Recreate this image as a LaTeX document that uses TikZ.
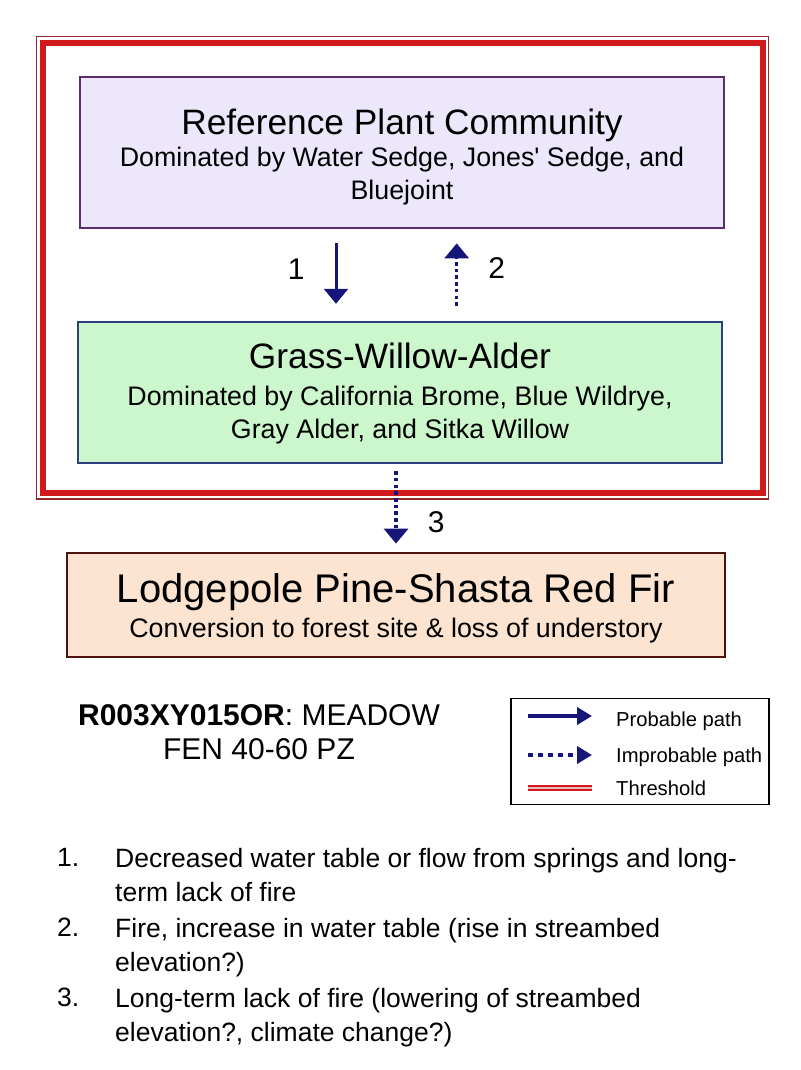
\documentclass[tikz,border=0pt]{standalone}
\usepackage{fontspec}
\setmainfont{Liberation Sans}
\usetikzlibrary{arrows.meta, positioning}
\definecolor{refcomm}{RGB}{237, 231, 251}
\definecolor{refborder}{RGB}{91, 44, 111}
\definecolor{grasscomm}{RGB}{204, 246, 204}
\definecolor{grassborder}{RGB}{47, 63, 127}
\definecolor{forestcomm}{RGB}{252, 228, 209}
\definecolor{forestborder}{RGB}{79, 20, 16}
\definecolor{threshred}{RGB}{208, 26, 26}
\definecolor{threshdark}{RGB}{150, 40, 40}
\definecolor{pathnavy}{RGB}{22, 22, 122}

\begin{document}
\begin{tikzpicture}[x=1pt, y=-1pt,
    box/.style={rectangle, draw, line width=2.8pt, inner sep=0pt},
    title/.style={anchor=base, inner sep=0pt, font=\fontsize{35.3}{40}\selectfont},
    sub/.style={anchor=north, inner sep=0pt, align=center, font=\fontsize{26.8}{32.5}\selectfont},
    num/.style={inner sep=0pt, font=\fontsize{30}{34}\selectfont},
    probable/.style={draw=pathnavy, line width=3pt, -{Triangle[length=15pt, width=24pt]}},
    improbable/.style={probable, line width=3.5pt, dash pattern=on 3.5pt off 3.2pt},
    legtext/.style={anchor=base west, inner sep=0pt, font=\fontsize{20.2}{24}\selectfont},
    item/.style={anchor=north west, inner sep=0pt, align=left, font=\fontsize{26.5}{34}\selectfont}]

    \useasboundingbox (0,0) rectangle (800,1070);

    % threshold frame
    \draw[line width=1.5pt, draw=threshdark] (36.5,36.5) rectangle (768.7,499);
    \draw[line width=6pt, draw=threshred] (43,43) rectangle (763.3,492.5);

    % states
    \node[box, draw=refborder, fill=refcomm, minimum width=644pt, minimum height=151pt] (ref) at (402,152.5) {};
    \node[title] (reftitle) at ([yshift=-59pt]ref.north) {Reference Plant Community};
    \node[sub] (refsub) at ([yshift=-71.3pt]ref.north) {Dominated by Water Sedge, Jones\textquotesingle{} Sedge, and\\Bluejoint};

    \node[box, draw=grassborder, line width=2.5pt, fill=grasscomm, minimum width=644pt, minimum height=141pt] (grass) at (400,392.5) {};
    \node[title] (grasstitle) at ([yshift=-47.5pt]grass.north) {Grass-Willow-Alder};
    \node[sub] (grasssub) at ([yshift=-65.3pt]grass.north) {Dominated by California Brome, Blue Wildrye,\\Gray Alder, and Sitka Willow};

    \node[box, draw=forestborder, fill=forestcomm, minimum width=658pt, minimum height=104pt] (forest) at (396,605) {};
    \node[title, font=\fontsize{40}{44}\selectfont] (foresttitle) at ([yshift=-51.3pt]forest.north) {Lodgepole Pine-Shasta Red Fir};
    \node[sub] (forestsub) at ([yshift=-66.3pt]forest.north) {Conversion to forest site \& loss of understory};

    % transitions
    \draw[probable, shorten <=14pt, shorten >=17pt] ([xshift=-66pt]ref.south) -- node[num, pos=0.43, left=30pt]{1} ([xshift=-64pt]grass.north);
    \draw[improbable, shorten <=15pt, shorten >=14pt] ([xshift=56.7pt]grass.north) -- node[num, pos=0.58, right=30pt]{2} ([xshift=54.7pt]ref.south);
    \draw[improbable, shorten <=7pt, shorten >=8pt] ([xshift=-4pt]grass.south) -- node[num, pos=0.66, right=30pt]{3} (forest.north);

    % site name
    \node[anchor=north, inner sep=0pt, align=center, font=\fontsize{30}{34}\selectfont] (site) at (259,704.5) {\textbf{R003XY015OR}: MEADOW\\FEN 40-60 PZ};

    % legend
    \node[draw, line width=1.2pt, minimum width=258pt, minimum height=106pt, inner sep=0pt] (legend) at (640,751.5) {};
    \node[legtext] (lprob) at (616,726) {Probable path};
    \node[legtext] (limpr) at (616,762) {Improbable path};
    \node[legtext] (lthr) at (616,795) {Threshold};
    \draw[probable, line width=4.5pt, -{Triangle[length=15pt, width=17pt]}] ([xshift=-88pt, yshift=10pt]lprob.base west) -- ([xshift=-24pt, yshift=10pt]lprob.base west);
    \draw[probable, line width=4.5pt, dash pattern=on 5pt off 5pt, -{Triangle[length=15pt, width=17pt]}] ([xshift=-88pt, yshift=7pt]limpr.base west) -- ([xshift=-24pt, yshift=7pt]limpr.base west);
    \draw[draw=threshred, line width=1.9pt, double=threshred!30, double distance=1.3pt] ([xshift=-88pt, yshift=7pt]lthr.base west) -- ([xshift=-24pt, yshift=7pt]lthr.base west);

    % transition notes
    \node[item] (n1) at (57,847.9) {1.};
    \node[item] (t1) at (115,847.9) {Decreased water table or flow from springs and long-\\term lack of fire};
    \node[item] (n2) at (57,917.9) {2.};
    \node[item] (t2) at (115,917.9) {Fire, increase in water table (rise in streambed\\elevation?)};
    \node[item] (n3) at (57,988) {3.};
    \node[item] (t3) at (115,988) {Long-term lack of fire (lowering of streambed\\elevation?, climate change?)};
\end{tikzpicture}
\end{document}
